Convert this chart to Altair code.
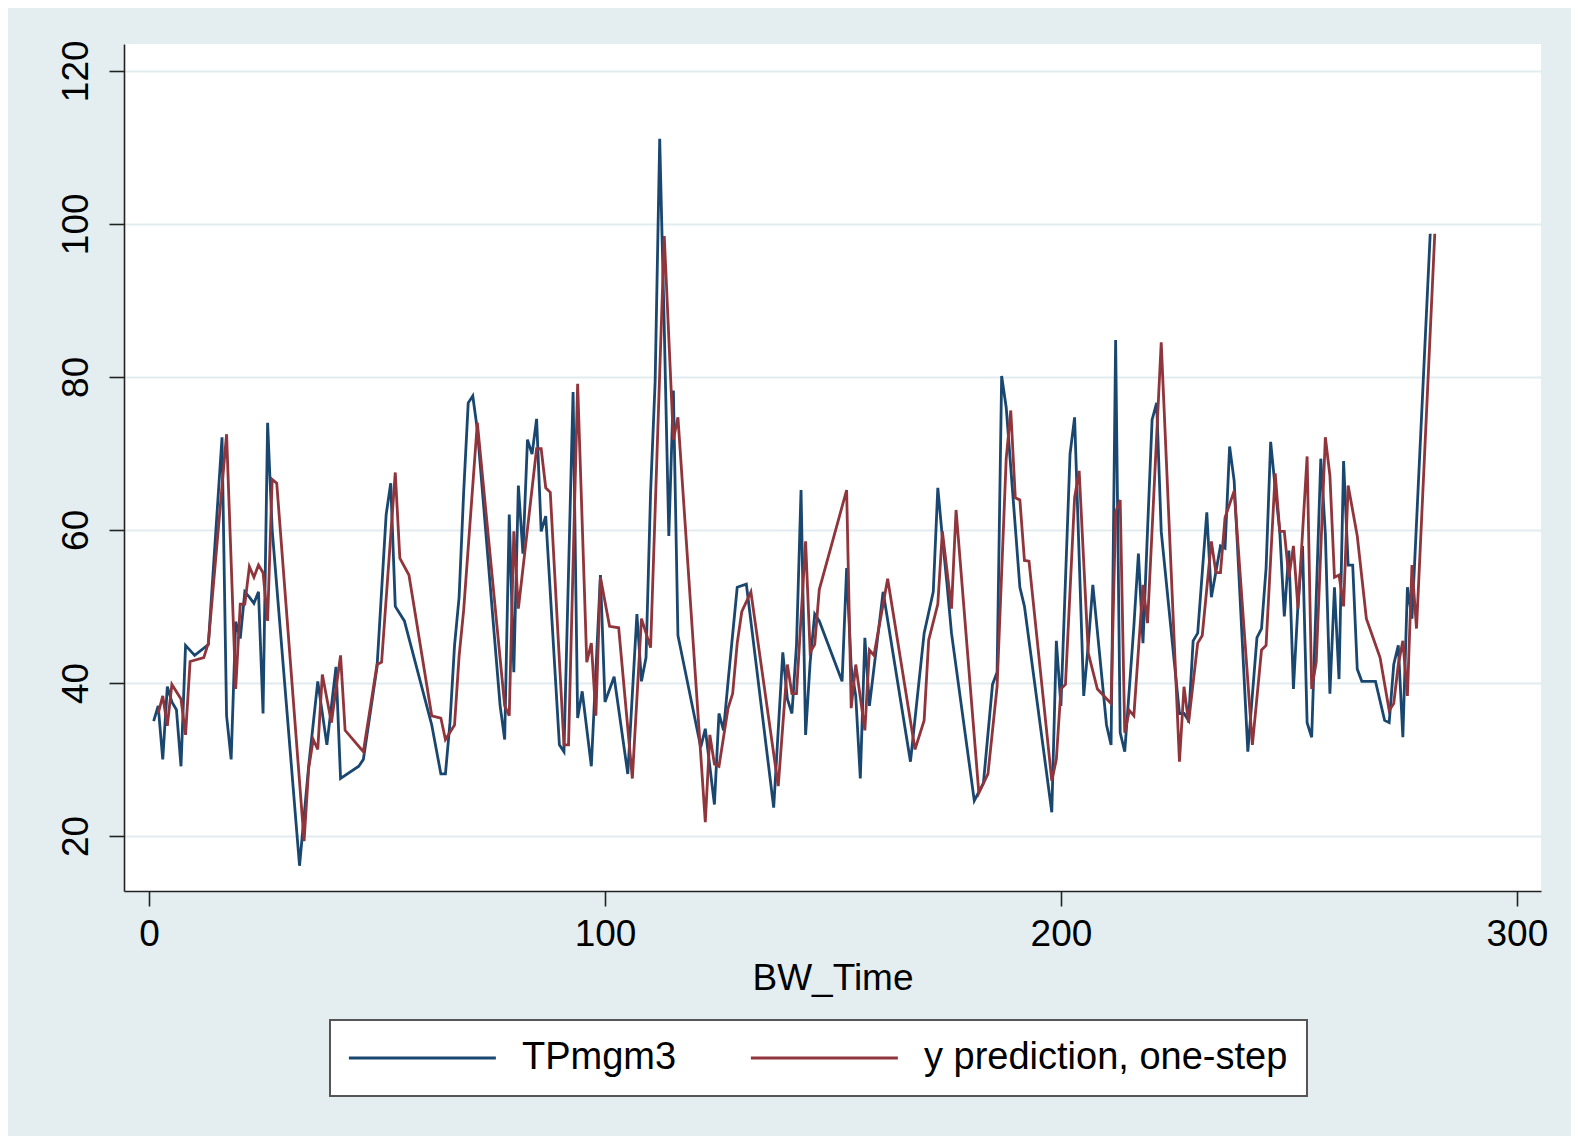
import altair as alt
import pandas as pd

obs_t = [1, 2, 3, 4, 5, 6, 7, 8, 10, 13, 16, 17, 18, 19, 20, 21, 22, 23, 24, 25, 26, 27,
         33, 35, 37, 39, 41, 42, 46, 47, 50, 52, 53, 54, 56, 62, 64, 65, 66, 67, 68, 69,
         70, 71, 72, 77, 78, 79, 80, 81, 82, 83, 84, 85, 86, 87, 90, 91, 93, 94, 95, 97,
         99, 100, 102, 105, 107, 108, 109, 110, 111, 112, 113, 114, 115, 116, 121, 122,
         124, 125, 126, 127, 129, 131, 137, 139, 140, 141, 142, 143, 144, 145, 146, 147,
         152, 153, 154, 155, 156, 157, 158, 161, 167, 170, 172, 173, 174, 175, 176, 181,
         183, 185, 186, 187, 188, 191, 192, 198, 199, 200, 202, 203, 205, 206, 207, 210,
         211, 212, 213, 214, 216, 217, 218, 219, 220, 221, 222, 226, 227, 228, 229, 230,
         232, 233, 235, 236, 237, 238, 241, 243, 244, 245, 246, 247, 248, 249, 250, 251,
         252, 253, 254, 255, 257, 258, 259, 260, 261, 262, 263, 264, 265, 266, 269, 271,
         272, 273, 274, 275, 276, 277, 281]
obs_v = [35.0, 37.0, 30.0, 39.5, 37.5, 36.5, 29.1, 44.9, 43.6, 45.0, 72.1, 35.7, 30.0, 48.0,
         45.8, 51.9, 51.2, 50.4, 51.9, 36.0, 74.0, 60.0,
         16.1, 29.1, 40.2, 31.9, 42.1, 27.5, 29.1, 30.0, 42.1, 62.0, 66.1, 50.0, 48.1, 34.5,
         28.1, 28.1, 34.8, 44.9, 51.2, 64.9,
         76.6, 77.5, 73.1, 37.0, 32.6, 62.0, 41.4, 65.8, 56.9, 71.8, 69.9, 74.5, 59.8, 61.8,
         31.9, 31.0, 78.0, 35.4, 38.9, 29.1,
         54.1, 37.5, 40.8, 28.1, 49.0, 40.2, 43.3, 64.9, 79.4, 111.1, 86.4, 59.2, 78.2, 46.2,
         31.6, 34.0,
         24.1, 36.0, 33.8, 40.2, 52.5, 52.9, 23.7, 44.0, 37.9, 36.0, 44.9, 65.2, 33.2, 42.7,
         49.0, 48.1,
         40.2, 55.0, 42.1, 38.3, 27.5, 45.9, 37.0, 51.9, 29.7, 46.5, 51.9, 65.5, 59.0, 53.0,
         46.5, 24.6,
         26.9, 39.8, 41.4, 80.1, 76.0, 52.5, 50.0, 23.1, 45.5, 37.0, 69.9, 74.7, 38.3, 45.0,
         52.8, 34.5,
         31.9, 84.8, 33.5, 31.0, 47.4, 56.9, 45.2, 60.0, 74.4, 76.6, 59.8, 36.0, 36.0, 35.1,
         45.5, 46.5,
         62.3, 51.2, 57.9, 57.6, 70.9, 66.4, 31.0, 45.9, 47.1, 55.0, 71.5, 65.5, 59.8, 48.7,
         57.3, 39.2,
         50.3, 57.9, 34.8, 32.9, 69.3, 59.5, 38.6, 52.5, 40.5, 69.0, 55.4, 55.4, 41.8, 40.2,
         40.2, 35.1,
         34.8, 42.4, 44.9, 32.9, 52.5, 48.4, 98.7]

# One-step prediction series
pred_t = [2, 3, 4, 5, 7, 8, 9, 12, 13, 17, 19, 20, 21, 22, 23, 24, 25, 26, 27, 28,
          34, 35, 36, 37, 38, 40, 42, 43, 47, 50, 51, 54, 55, 57, 62, 64, 65, 67, 68, 69,
          72, 78, 79, 80, 81, 85, 86, 87, 88, 91, 92, 94, 96, 97, 98, 99, 101, 103, 106,
          108, 110, 113, 115, 116, 122, 123, 124, 125, 127, 128, 129, 130, 132, 138, 140,
          141, 142, 144, 145, 146, 147, 153, 154, 155, 157, 158, 159, 162, 168, 170, 171,
          173, 174, 176, 177, 182, 184, 186, 188, 189, 190, 191, 192, 193, 198, 199, 200,
          201, 203, 204, 206, 208, 211, 212, 213, 214, 215, 216, 218, 219, 222, 226, 227,
          228, 230, 231, 233, 234, 235, 236, 238, 242, 244, 245, 247, 248, 249, 250, 251,
          252, 254, 255, 256, 258, 259, 260, 261, 262, 263, 265, 267, 270, 272, 273, 274,
          275, 276, 277, 278, 282]
pred_v = [36.0, 38.3, 34.4, 39.8, 37.9, 33.2, 42.8, 43.3, 45.2, 72.5, 39.2, 50.3, 50.3, 55.2,
          53.8, 55.4, 54.4, 48.1, 66.6, 66.1,
          19.3, 28.8, 32.6, 31.3, 41.1, 34.8, 43.6, 33.8, 31.0, 42.4, 42.7, 67.5, 56.3, 54.1,
          35.7, 35.4, 32.6, 34.5, 43.5, 49.5,
          74.0, 37.0, 35.7, 59.8, 49.7, 70.6, 70.6, 65.5, 64.9, 31.9, 31.9, 79.1, 42.7, 45.2,
          35.7, 53.8, 47.4, 47.2, 27.5,
          48.4, 44.6, 98.4, 71.8, 74.7, 21.8, 33.2, 29.4, 29.1, 36.7, 38.6, 45.2, 49.3, 51.9,
          26.5, 42.4,
          38.6, 38.6, 58.5, 44.0, 45.0, 52.2, 65.2, 36.7, 42.4, 33.8, 44.3, 43.6, 53.6, 31.3,
          35.1, 45.6,
          50.3, 59.8, 49.7, 62.6, 25.6, 28.1, 39.5, 69.3, 75.6, 64.2, 63.9, 56.0, 55.9, 27.2,
          30.0, 39.2,
          39.8, 64.2, 67.7, 43.9, 39.2, 37.3, 62.3, 63.9, 33.5, 36.4, 35.7, 52.8, 47.8, 84.5,
          29.7, 39.5,
          34.8, 45.2, 46.2, 58.5, 54.4, 54.4, 61.6, 65.1, 31.9, 44.3, 44.9, 67.4, 59.8, 59.8,
          53.8, 57.9,
          49.7, 69.6, 39.2, 42.7, 72.1, 67.1, 53.8, 54.1, 50.0, 65.8, 59.2, 48.4, 43.3, 36.4,
          37.3, 42.4,
          45.5, 38.3, 55.4, 47.1, 98.7]

series_names = ["TPmgm3", "y prediction, one-step"]
series_colors = ["#1a476f", "#90353b"]
x_ticks = [0, 100, 200, 300]
y_ticks = [20, 40, 60, 80, 100, 120]

df = pd.concat([
    pd.DataFrame({"BW_Time": obs_t, "value": obs_v, "series": series_names[0], "order": 0}),
    pd.DataFrame({"BW_Time": pred_t, "value": pred_v, "series": series_names[1], "order": 1}),
])

FONT = "Liberation Sans"

chart = alt.Chart(df).mark_line(strokeWidth=2.8, strokeJoin="miter").encode(
    x=alt.X("BW_Time:Q",
            scale=alt.Scale(domain=[-5.5, 305.3], nice=False, zero=False),
            axis=alt.Axis(values=x_ticks, grid=False, title="BW_Time", tickSize=15,
                          labelPadding=10, titlePadding=8, format="d")),
    y=alt.Y("value:Q",
            scale=alt.Scale(domain=[12.8, 123.5], nice=False, zero=False),
            axis=alt.Axis(values=y_ticks, grid=True, title=None, tickSize=15,
                          labelAngle=270, labelAlign="center", labelBaseline="bottom",
                          labelPadding=14, format="d")),
    color=alt.Color("series:N",
                    scale=alt.Scale(domain=series_names, range=series_colors),
                    legend=alt.Legend(title=None, orient="none", legendX=206, legendY=976,
                                      direction="horizontal", symbolType="M-1.3,0H8.7",
                                      symbolSize=864, symbolStrokeWidth=2.8,
                                      symbolFillColor="transparent",
                                      labelFontSize=38, labelFont=FONT, labelColor="#000000",
                                      labelLimit=1000, labelOffset=135, columnPadding=68,
                                      padding=19, fillColor="#ffffff", strokeColor="#555555")),
    detail="series:N",
    order="order:Q",
).properties(
    width=1417,
    height=847,
    autosize=alt.AutoSizeParams(type="none"),
    padding={"left": 116, "top": 36, "right": 30, "bottom": 245},
    background="#E4EEF0",
).configure_view(
    fill="#ffffff",
    stroke=None,
).configure_legend(
    strokeWidth=2,
).configure_axis(
    domainColor="#222222",
    domainWidth=1.6,
    tickColor="#222222",
    tickWidth=1.6,
    labelFont=FONT,
    labelFontSize=37,
    labelColor="#000000",
    titleFont=FONT,
    titleFontSize=37,
    titleFontWeight="normal",
    titleColor="#000000",
    gridColor="#E2ECEF",
    gridWidth=2,
)

chart.save("out.html", embed_options={"renderer": "svg", "actions": False})
